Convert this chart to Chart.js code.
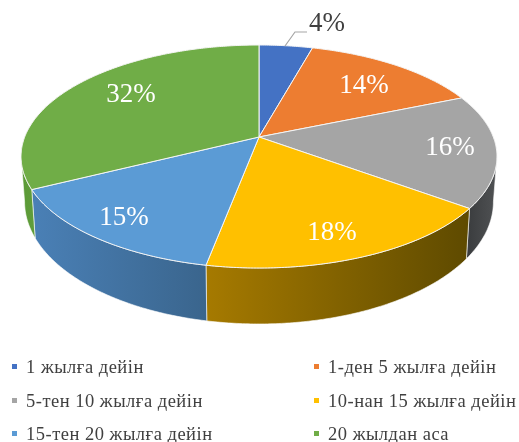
<!DOCTYPE html>
<html>
<head>
<meta charset="utf-8">
<script src="https://cdn.jsdelivr.net/npm/chart.js@4"></script>
<style>
  html, body { margin: 0; padding: 0; background: #fff; }
  #wrap { position: relative; width: 519px; height: 442px; overflow: hidden; filter: blur(0.45px); }
  #pie { position: absolute; left: 0; top: 0; }
  .item { position: absolute; font: 18.5px "Liberation Serif", serif; letter-spacing: 0.5px; color: #404040; white-space: nowrap; line-height: 20px; }
  .item i { position: absolute; left: -14px; top: 7px; width: 5px; height: 5px; }
</style>
</head>
<body>
<div id="wrap">
  <canvas id="pie" width="519" height="442"></canvas>
</div>
<script>
var categories = ["1 жылға дейін", "1-ден 5 жылға дейін", "5-тен 10 жылға дейін", "10-нан 15 жылға дейін", "15-тен 20 жылға дейін", "20 жылдан аса"];
var values = [4.3, 14.4, 16.4, 17.9, 14.6, 32.4];
var colors = ["#4472c4", "#ed7d31", "#a5a5a5", "#ffc000", "#5b9bd5", "#70ad47"];
var wallLeft = ["#2f5597", "#a5561f", "#3c3e40", "#a67a00", "#4a80b6", "#5a9a36"];
var wallRight = ["#2f5597", "#a5561f", "#505254", "#5e4a00", "#3a658d", "#5f9c3a"];
// label spots on the picture, same order as values
var labelX = [327, 364, 450, 332, 124, 131];
var labelY = [24, 86, 148, 233, 218, 95];

// the reference is a tilted pie in perspective, so the circle goes through a projective map
var centerX = 259, centerY = 137;
var scaleX = 234.3, scaleY = 84.1, persp = -0.175;

function project(theta) {
  var u = Math.sin(theta), v = -Math.cos(theta);
  var d = 1 + persp * v;
  return { x: centerX + scaleX * u / d, y: (centerY + scaleY * v) / d };
}
function dropped(p) {
  // rim point moved down to the bottom edge of the wall
  return { x: centerX + (p.x - centerX) * 0.985, y: p.y + 30.5 + 0.095 * p.y };
}
function sampleAngles(a, b) {
  var out = [], n = Math.max(2, Math.ceil((b - a) / 0.01));
  for (var i = 0; i <= n; i++) out.push(a + (b - a) * i / n);
  return out;
}

// slices keep the angles the pie controller worked out, only the path changes
Chart.ArcElement.prototype.draw = function (ctx) {
  var a = this.startAngle + Math.PI / 2, b = this.endAngle + Math.PI / 2;
  var pts = sampleAngles(a, b);
  ctx.save();
  ctx.beginPath();
  ctx.moveTo(centerX, centerY);
  for (var i = 0; i < pts.length; i++) {
    var p = project(pts[i]);
    ctx.lineTo(p.x, p.y);
  }
  ctx.closePath();
  ctx.fillStyle = this.options.backgroundColor;
  ctx.fill();
  ctx.lineWidth = 1;
  ctx.strokeStyle = this.options.borderColor;
  ctx.lineJoin = "round";
  ctx.stroke();
  ctx.restore();
};

var wallPlugin = {
  id: "wall",
  beforeDatasetsDraw: function (chart) {
    var ctx = chart.ctx;
    // rim turns away from the viewer where v = -persp
    var front0 = Math.PI - Math.acos(-persp);
    var front1 = 2 * Math.PI - front0;
    chart.getDatasetMeta(0).data.forEach(function (arc, i) {
      var a = Math.max(arc.startAngle + Math.PI / 2, front0);
      var b = Math.min(arc.endAngle + Math.PI / 2, front1);
      if (b <= a) return;
      var pts = sampleAngles(a, b);
      var minX = 1e9, maxX = -1e9;
      ctx.save();
      ctx.beginPath();
      pts.forEach(function (t, k) {
        var p = project(t);
        if (p.x < minX) minX = p.x;
        if (p.x > maxX) maxX = p.x;
        if (k === 0) ctx.moveTo(p.x, p.y); else ctx.lineTo(p.x, p.y);
      });
      for (var k = pts.length - 1; k >= 0; k--) {
        var q = dropped(project(pts[k]));
        ctx.lineTo(q.x, q.y);
      }
      ctx.closePath();
      var grad = ctx.createLinearGradient(minX, 0, maxX, 0);
      grad.addColorStop(0, wallLeft[i]);
      grad.addColorStop(1, wallRight[i]);
      ctx.fillStyle = grad;
      ctx.fill();
      ctx.lineWidth = 1;
      ctx.strokeStyle = "rgba(255,255,255,0.6)";
      ctx.stroke();
      ctx.restore();
    });
  },
  afterDatasetsDraw: function (chart) {
    var ctx = chart.ctx;
    ctx.save();
    // leader for the small slice
    ctx.beginPath();
    ctx.moveTo(285, 46);
    ctx.lineTo(295, 32);
    ctx.lineTo(307, 32);
    ctx.lineWidth = 1.2;
    ctx.strokeStyle = "#a6a6a6";
    ctx.stroke();
    ctx.font = '27px "Liberation Serif", serif';
    ctx.textAlign = "center";
    ctx.textBaseline = "middle";
    values.forEach(function (v, i) {
      ctx.fillStyle = i === 0 ? "#404040" : "#ffffff";
      ctx.fillText(Math.round(v) + "%", labelX[i], labelY[i]);
    });
    ctx.restore();
  }
};

new Chart(document.getElementById("pie"), {
  type: "pie",
  data: {
    labels: categories,
    datasets: [{ data: values, backgroundColor: colors, borderColor: "#f4f4f4", borderWidth: 1 }]
  },
  options: {
    responsive: false,
    animation: false,
    plugins: { legend: { display: false }, tooltip: { enabled: false } }
  },
  plugins: [wallPlugin]
});

// legend in two columns
var wrap = document.getElementById("wrap");
var colX = [26, 328], rowY = [357, 391, 424];
categories.forEach(function (name, i) {
  var el = document.createElement("div");
  el.className = "item";
  el.style.left = colX[i % 2] + "px";
  el.style.top = rowY[Math.floor(i / 2)] + "px";
  var mark = document.createElement("i");
  mark.style.background = colors[i];
  el.appendChild(mark);
  el.appendChild(document.createTextNode(name));
  wrap.appendChild(el);
});
</script>
</body>
</html>
